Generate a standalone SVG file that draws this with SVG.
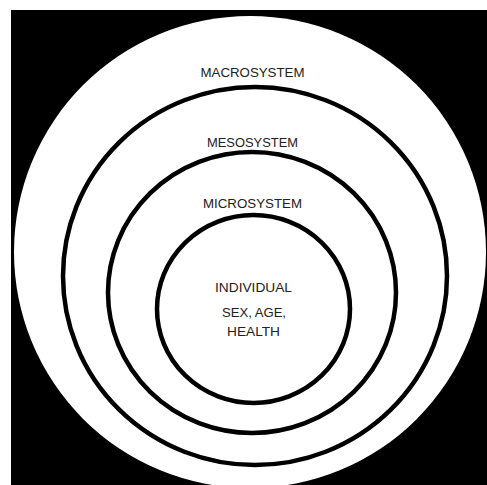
<svg xmlns="http://www.w3.org/2000/svg" width="487" height="485" viewBox="0 0 487 485">
<style>
.ring{fill:none;stroke:#000;stroke-width:4.5}
.lbl{font-family:"Liberation Sans",Arial,sans-serif;font-size:13px;fill:#222;text-anchor:middle}
</style>
<rect x="0" y="0" width="487" height="485" fill="#fff"/>
<rect x="11" y="10" width="476" height="475" fill="#000"/>
<g id="macrosystem">
<circle cx="250" cy="252" r="236" fill="#fff"/>
<text class="lbl" x="252.5" y="77" textLength="104" lengthAdjust="spacingAndGlyphs">MACROSYSTEM</text>
</g>
<g id="mesosystem">
<ellipse class="ring" cx="255" cy="276" rx="192" ry="189"/>
<text class="lbl" x="252.5" y="147" textLength="91" lengthAdjust="spacingAndGlyphs">MESOSYSTEM</text>
</g>
<g id="microsystem">
<ellipse class="ring" cx="252" cy="292.5" rx="144" ry="140.5"/>
<text class="lbl" x="252.5" y="208" textLength="99" lengthAdjust="spacingAndGlyphs">MICROSYSTEM</text>
</g>
<g id="individual">
<ellipse class="ring" cx="253.5" cy="309" rx="96.5" ry="94"/>
<text class="lbl" x="253.5" y="292" textLength="77" lengthAdjust="spacingAndGlyphs">INDIVIDUAL</text>
<text class="lbl" x="254" y="317" textLength="64" lengthAdjust="spacingAndGlyphs">SEX, AGE,</text>
<text class="lbl" x="253.5" y="336" textLength="53" lengthAdjust="spacingAndGlyphs">HEALTH</text>
</g>
<g id="connectors"/>
</svg>
